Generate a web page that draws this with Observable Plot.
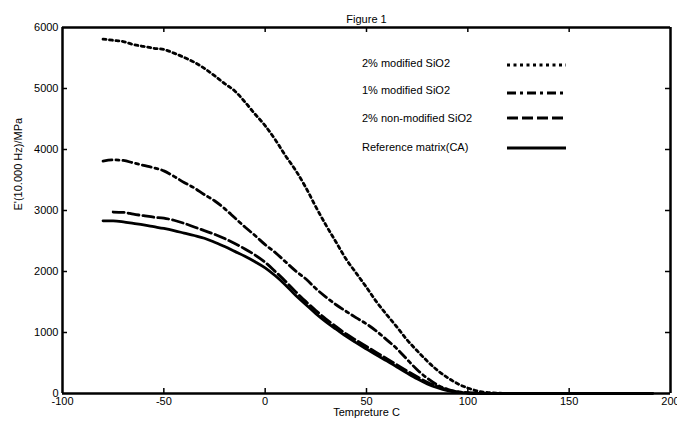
<!DOCTYPE html>
<html><head><meta charset="utf-8">
<script src="https://cdn.jsdelivr.net/npm/d3@7"></script>
<script src="https://cdn.jsdelivr.net/npm/@observablehq/plot@0.6"></script>
<style>
body{margin:0;background:#fff;}
#wrap{position:relative;width:677px;height:423px;font-family:"Liberation Sans",Arial,sans-serif;}
#wrap svg{display:block;}
#legend{position:absolute;left:0;top:0;pointer-events:none;}
</style></head><body><div id="wrap"></div>
<script>
const temps = [-80,-75,-70,-65,-60,-55,-50,-45,-40,-35,-30,-25,-20,-15,-10,-5,0,5,10,15,20,25,30,35,40,45,50,55,60,65,70,75,80,85,90,95,100,105,110,115,120,150,191];
const mod2 = [5810,5790,5770,5720,5690,5660,5640,5580,5510,5430,5330,5210,5080,4960,4780,4580,4390,4160,3900,3660,3380,3060,2760,2480,2200,1970,1740,1500,1290,1090,880,700,530,380,260,160,90,40,15,5,0,0,0];
const mod1 = [3810,3830,3820,3780,3740,3700,3650,3560,3460,3370,3260,3160,3030,2880,2730,2590,2440,2310,2160,2010,1880,1720,1580,1455,1345,1240,1140,1020,880,735,560,390,250,140,70,30,10,3,0,0,0,0,0];
const nonmod2 = [null,2975,2970,2940,2915,2890,2875,2840,2790,2730,2670,2610,2540,2460,2370,2270,2150,2000,1840,1670,1510,1360,1220,1095,975,870,770,670,570,470,370,275,185,115,60,27,10,3,0,0,0,0,0];
const refCA = [2830,2830,2815,2790,2765,2735,2705,2670,2630,2590,2545,2480,2410,2330,2250,2160,2060,1930,1780,1610,1460,1310,1175,1055,935,830,730,630,535,435,335,240,158,95,48,20,8,3,0,0,0,0,0];

const seriesNames = ["2% modified SiO2","1% modified SiO2","2% non-modified SiO2","Reference matrix(CA)"];
const seriesValues = [mod2, mod1, nonmod2, refCA];
const dashes = ["3,3.5","9,4,3,4","11,4",null];
const xTicks = [-100,-50,0,50,100,150,200];
const yTicks = [0,1000,2000,3000,4000,5000,6000];
const xDomain = [-100, 200];
const yDomain = [0, 6000];

const rows = seriesNames.flatMap((name,i)=> temps.map((t,j)=>({name, t, v: seriesValues[i][j]})));

const lineMarks = seriesNames.map((name,i)=> Plot.line(rows.filter(r=>r.name===name && r.v!=null), {
  x:"t", y:"v", stroke:"black", strokeWidth:2.8, curve:"monotone-x",
  ...(dashes[i] ? {strokeDasharray: dashes[i]} : {})
}));

const innerX = xTicks.slice(1, -1);
const innerY = yTicks.slice(1, -1);

const chart = Plot.plot({
  width:677, height:423, marginLeft:62, marginRight:7, marginTop:27, marginBottom:30,
  style:{fontFamily:"Liberation Sans, Arial, sans-serif", fontSize:"11px", background:"white", color:"black"},
  x:{domain:xDomain}, y:{domain:yDomain},
  marks:[
    ...lineMarks,
    // box
    Plot.ruleX(xDomain, {stroke:"black", strokeWidth:2.5}),
    Plot.ruleY(yDomain, {stroke:"black", strokeWidth:2.5}),
    // inward ticks
    Plot.ruleX(innerX, {x:d=>d, y1:yDomain[0], y2:yDomain[0], insetTop:-5, stroke:"black", strokeWidth:1.5}),
    Plot.ruleX(innerX, {x:d=>d, y1:yDomain[1], y2:yDomain[1], insetBottom:-5, stroke:"black", strokeWidth:1.5}),
    Plot.ruleY(innerY, {y:d=>d, x1:xDomain[0], x2:xDomain[0], insetRight:-5, stroke:"black", strokeWidth:1.5}),
    Plot.ruleY(innerY, {y:d=>d, x1:xDomain[1], x2:xDomain[1], insetLeft:-5, stroke:"black", strokeWidth:1.5}),
    // tick labels
    Plot.axisX({ticks:xTicks, tickSize:0, tickPadding:4, tickFormat:d=>String(d), label:null}),
    Plot.axisY({ticks:yTicks, tickSize:0, tickPadding:4, tickFormat:d=>String(d), label:null}),
    Plot.text(["Figure 1"], {text:d=>d, frameAnchor:"top", dy:-12, fontSize:11}),
    Plot.text(["Tempreture C"], {text:d=>d, frameAnchor:"bottom", dy:22, fontSize:11}),
    Plot.text(["E'(10.000 Hz)/MPa"], {text:d=>d, frameAnchor:"left", dx:-44, rotate:-90, fontSize:11})
  ]
});
const wrap = document.getElementById("wrap");
wrap.appendChild(chart);

const legTextY = [63, 90, 118, 147];
const legLineY = [65, 93, 118, 148];
const leg = d3.select(wrap).append("svg").attr("id","legend").attr("width",677).attr("height",423);
seriesNames.forEach((name,i)=>{
  leg.append("text").attr("x",362).attr("y",legTextY[i]).attr("dy","0.35em")
    .attr("font-size",11).attr("font-family","Liberation Sans, Arial, sans-serif").text(name);
  const l = leg.append("line").attr("x1",507).attr("x2",566).attr("y1",legLineY[i]).attr("y2",legLineY[i])
    .attr("stroke","black").attr("stroke-width",2.8);
  if (dashes[i]) l.attr("stroke-dasharray", dashes[i]);
});
</script></body></html>
